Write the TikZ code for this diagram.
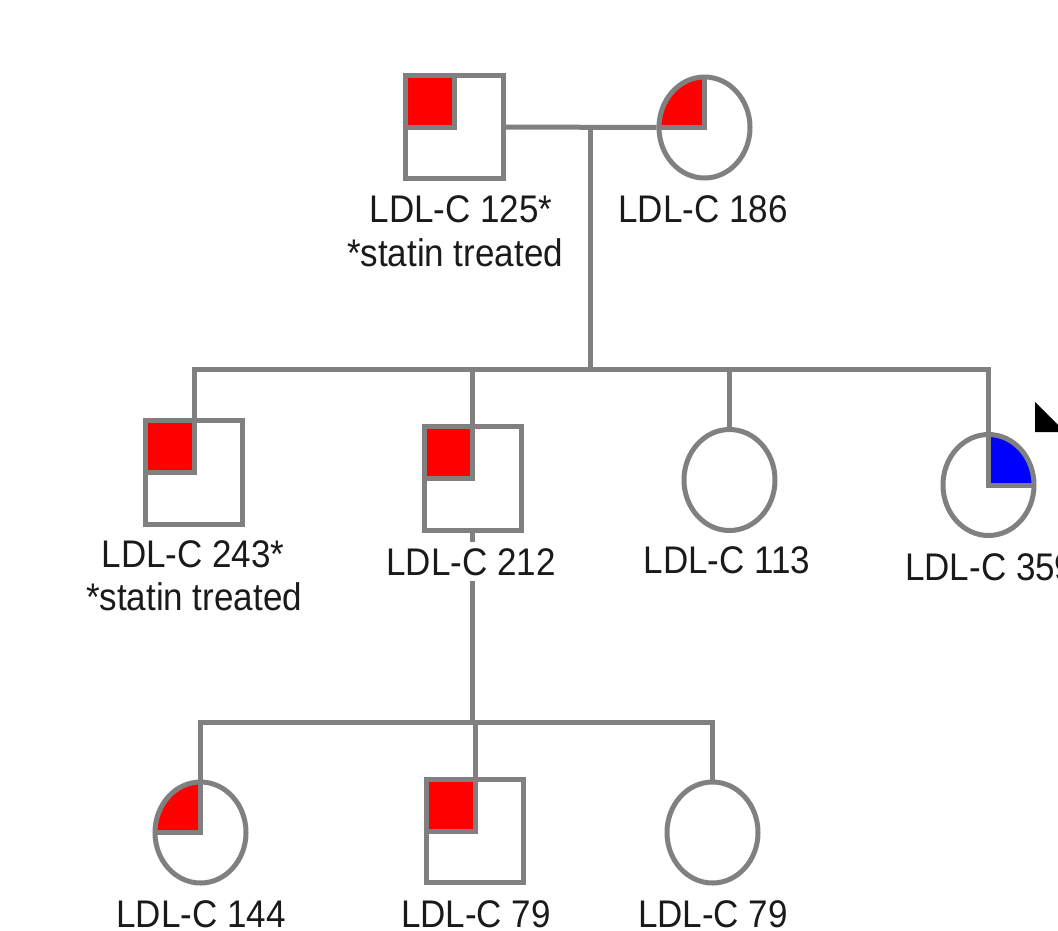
\documentclass[tikz,border=0pt]{standalone}
\usepackage{fontspec}
\usepackage{graphicx}
\setmainfont{Liberation Sans}
\usetikzlibrary{shapes.geometric}
\definecolor{lg}{HTML}{808080}
\definecolor{txt}{HTML}{1A1A1A}
\definecolor{aff}{HTML}{FF0000}
\definecolor{affb}{HTML}{0000FF}
\newcommand\vs[1]{\scalebox{1}[1.1]{#1}}
\tikzset{
  male/.style={rectangle, draw=lg, line width=5pt, fill=white, inner sep=0pt,
    minimum width=97pt, minimum height=104pt},
  female/.style={ellipse, draw=lg, line width=5pt, fill=white, inner sep=0pt,
    minimum width=91pt, minimum height=101pt},
  qtl/.style={path picture={
    \fill[#1] (path picture bounding box.north west) rectangle (path picture bounding box.center);
    \draw[lg, line width=5pt, line join=miter] (path picture bounding box.north) -- (path picture bounding box.center) -- (path picture bounding box.west);}},
  qtr/.style={path picture={
    \fill[#1] (path picture bounding box.north east) rectangle (path picture bounding box.center);
    \draw[lg, line width=5pt, line join=miter] (path picture bounding box.north) -- (path picture bounding box.center) -- (path picture bounding box.east);}},
  conn/.style={draw=lg, line width=5pt, line join=miter},
  lbl/.style={anchor=base, inner sep=0pt, text=txt, font=\fontsize{35}{40}\selectfont},
}
\begin{document}
\begin{tikzpicture}[x=1pt, y=-1pt]
\useasboundingbox (0,0) rectangle (1058,930);
\clip (0,0) rectangle (1058,930);
% generation I
\node[male, minimum width=98pt, minimum height=103pt, qtl=aff] (f) at (454.5,127) {};
\node[female, qtl=aff] (m) at (704.5,127.5) {};
% generation II
\node[male, qtl=aff] (c1) at (194,472.5) {};
\node[male, qtl=aff] (c2) at (472.5,478.5) {};
\node[female] (c3) at (729.5,480) {};
\node[female, qtr=affb] (c4) at (988.5,485) {};
% generation III
\node[female, qtl=aff] (g1) at (200.5,832.5) {};
\node[male, qtl=aff, minimum height=103pt] (g2) at (475,831) {};
\node[female] (g3) at (712.5,832.5) {};
% connectors
\coordinate (mj) at (590,128);
\coordinate (s1) at (590,369);
\coordinate (s2) at (474,722);
\draw[conn] (f.east) -- (m.west);
\draw[conn] (mj) -- (s1);
\draw[conn] (c1.north) |- (c4.north |- s1) -- (c4.north);
\draw[conn] (c2.north) -- (c2.north |- s1);
\draw[conn] (c3.north) -- (c3.north |- s1);
\draw[conn] (c2.south) -- (c2.south |- s2);
\draw[conn] (g1.north) |- (g3.north |- s2) -- (g3.north);
\draw[conn] (g2.north) -- (g2.north |- s2);
% labels
\node[lbl] (lf1) at (461,222) {\vs{LDL-C 125*}};
\node[lbl] (lf2) at (455,266) {\vs{*statin treated}};
\node[lbl] (lm) at (703,222) {\vs{LDL-C 186}};
\node[lbl] (l11) at (193,567) {\vs{LDL-C 243*}};
\node[lbl] (l12) at (194,610) {\vs{*statin treated}};
\node[lbl, fill=white, inner sep=6pt] (l2) at (471,575) {\vs{LDL-C 212}};
\node[lbl] (l3) at (727,573) {\vs{LDL-C 113}};
\node[lbl, anchor=base west] (l4) at (905,580) {\vs{LDL-C 359}};
\node[lbl] (lg1) at (201,927) {\vs{LDL-C 144}};
\node[lbl] (lg2) at (476,927) {\vs{LDL-C 79}};
\node[lbl] (lg3) at (713,927) {\vs{LDL-C 79}};
% cursor fragment
\fill[black] (1035,402) -- (1058,425) -- (1058,432) -- (1035,432) -- cycle;
\end{tikzpicture}
\end{document}
